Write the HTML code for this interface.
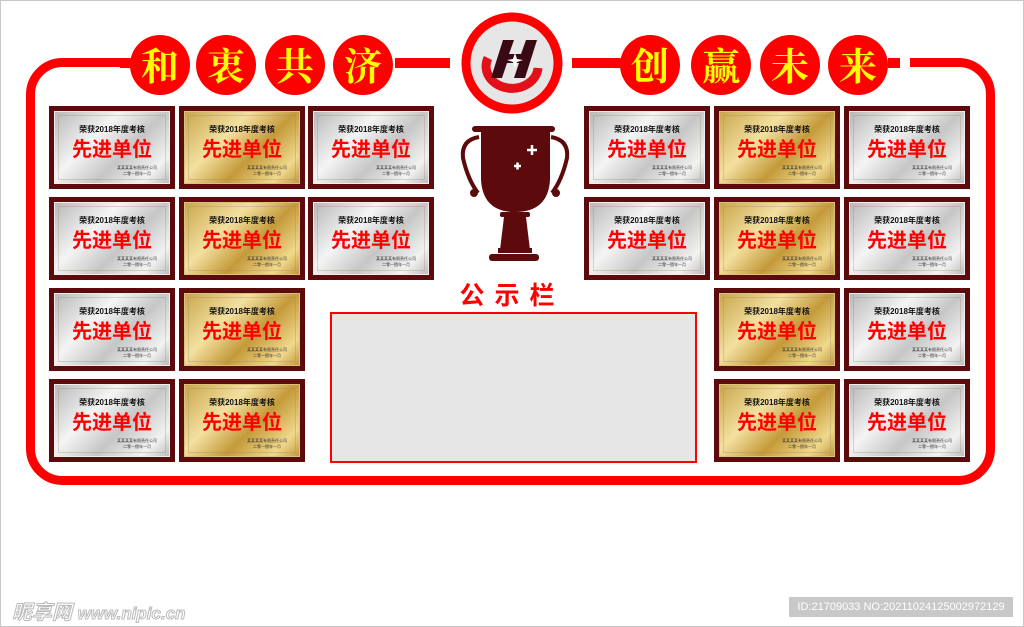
<!DOCTYPE html>
<html><head><meta charset="utf-8">
<style>
*{margin:0;padding:0;box-sizing:border-box}
body{width:1024px;height:627px;background:#fff;position:relative;overflow:hidden;font-family:"Liberation Sans","Noto Sans CJK SC",sans-serif}
.bd{position:absolute;left:0;top:0;width:1024px;height:627px;border:1px solid #c8c8c8}
.p{position:absolute;width:126px;height:83px;background:#5c0a0c;padding:5px}
.in{width:100%;height:100%;position:relative;text-align:center;border:1px solid #eee}
.s .in{background:linear-gradient(135deg,#b8b8b8 0%,#f4f4f4 35%,#c6c6c6 60%,#f2f2f2 85%,#bdbdbd 100%)}
.g .in{background:linear-gradient(135deg,#c9a64c 0%,#f3e0a0 35%,#c49a3a 60%,#f0d88c 85%,#c29a40 100%);border-color:#d9c27a}
.in:before{content:"";position:absolute;left:3px;top:3px;right:3px;bottom:3px;border:1px solid rgba(150,130,100,.3)}
.t1{position:absolute;top:12px;width:100%;font-size:8px;font-weight:bold;color:#111}
.t2{position:absolute;top:26px;width:100%;font-size:20px;font-weight:bold;color:#f00;line-height:24px}
.t3{position:absolute;top:53px;right:12px;font-size:4px;color:#333;line-height:6px;text-align:center}
.c{position:absolute;width:60px;height:60px;border-radius:50%;background:#f00;color:#ff0;font-family:"Noto Serif CJK SC",serif;font-weight:bold;font-size:38px;line-height:58px;text-align:center}
</style></head><body>
<div class="bd"></div>
<svg width="1024" height="627" style="position:absolute;left:0;top:0">
<rect x="30.5" y="62.5" width="960" height="418" rx="32" fill="none" stroke="#f00" stroke-width="9"/>
<rect x="120" y="50" width="790" height="26" fill="#fff"/>
<rect x="395" y="58" width="55" height="10" fill="#f00"/>
<rect x="572" y="58" width="55" height="10" fill="#f00"/>
<rect x="120" y="58" width="12" height="10" fill="#f00"/>
<rect x="888" y="58" width="12" height="10" fill="#f00"/>
<circle cx="512" cy="63" r="46" fill="#e6e6e6" stroke="#f00" stroke-width="9"/>
<path d="M488 58 a26 22 0 1 0 50 10" fill="none" stroke="#e3101a" stroke-width="9"/>
<path d="M503 40 l11 0 -5 14 12 0 5 -14 11 0 -12 38 -11 0 5 -15 -12 0 -5 15 -11 0z" fill="#3a0a14"/>
<path d="M515 53 l2 6 6 1 -6 2 -2 6 -2 -6 -6 -2 6 -1z" fill="#fff"/>
<g fill="#5c0a0c">
<rect x="472" y="126" width="83" height="6" rx="3"/>
<path d="M481 131 L550 131 L550 180 Q548 212 515 212 Q483 212 481 180Z"/>
<path d="M479 137 Q461 140 463 158 Q468 180 478 193" fill="none" stroke="#5c0a0c" stroke-width="4"/>
<path d="M551 137 Q569 140 567 158 Q562 180 552 193" fill="none" stroke="#5c0a0c" stroke-width="4"/>
<circle cx="474" cy="193" r="4"/><circle cx="556" cy="193" r="4"/>
<rect x="500" y="212" width="30" height="5" rx="2"/>
<path d="M504 217 L526 217 L530 250 L500 250Z"/>
<rect x="498" y="248" width="34" height="5"/>
<rect x="489" y="254" width="50" height="7" rx="3"/>
</g>
<path d="M527 150 h10 M532 145 v10 M514 166 h7 M517.5 162.5 v7" stroke="#fff" stroke-width="2.5"/>
<rect x="331" y="313" width="365" height="149" fill="#e6e6e6" stroke="#f00" stroke-width="2"/>
<text x="512" y="304" text-anchor="middle" font-size="25" font-weight="bold" fill="#f00" letter-spacing="10" font-family="Liberation Sans,Noto Sans CJK SC,sans-serif">公示栏</text>
</svg>
<div class="c" style="left:130px;top:35px">和</div>
<div class="c" style="left:196px;top:35px">衷</div>
<div class="c" style="left:265px;top:35px">共</div>
<div class="c" style="left:333px;top:35px">济</div>
<div class="c" style="left:620px;top:35px">创</div>
<div class="c" style="left:691px;top:35px">赢</div>
<div class="c" style="left:760px;top:35px">未</div>
<div class="c" style="left:828px;top:35px">来</div>

<div class="p s" style="left:49px;top:106px"><div class="in"><div class="t1">荣获2018年度考核</div><div class="t2">先进单位</div><div class="t3">某某某某有限责任公司<br>二零一捌年一月</div></div></div>
<div class="p g" style="left:179px;top:106px"><div class="in"><div class="t1">荣获2018年度考核</div><div class="t2">先进单位</div><div class="t3">某某某某有限责任公司<br>二零一捌年一月</div></div></div>
<div class="p s" style="left:308px;top:106px"><div class="in"><div class="t1">荣获2018年度考核</div><div class="t2">先进单位</div><div class="t3">某某某某有限责任公司<br>二零一捌年一月</div></div></div>
<div class="p s" style="left:49px;top:197px"><div class="in"><div class="t1">荣获2018年度考核</div><div class="t2">先进单位</div><div class="t3">某某某某有限责任公司<br>二零一捌年一月</div></div></div>
<div class="p g" style="left:179px;top:197px"><div class="in"><div class="t1">荣获2018年度考核</div><div class="t2">先进单位</div><div class="t3">某某某某有限责任公司<br>二零一捌年一月</div></div></div>
<div class="p s" style="left:308px;top:197px"><div class="in"><div class="t1">荣获2018年度考核</div><div class="t2">先进单位</div><div class="t3">某某某某有限责任公司<br>二零一捌年一月</div></div></div>
<div class="p s" style="left:49px;top:288px"><div class="in"><div class="t1">荣获2018年度考核</div><div class="t2">先进单位</div><div class="t3">某某某某有限责任公司<br>二零一捌年一月</div></div></div>
<div class="p g" style="left:179px;top:288px"><div class="in"><div class="t1">荣获2018年度考核</div><div class="t2">先进单位</div><div class="t3">某某某某有限责任公司<br>二零一捌年一月</div></div></div>
<div class="p s" style="left:49px;top:379px"><div class="in"><div class="t1">荣获2018年度考核</div><div class="t2">先进单位</div><div class="t3">某某某某有限责任公司<br>二零一捌年一月</div></div></div>
<div class="p g" style="left:179px;top:379px"><div class="in"><div class="t1">荣获2018年度考核</div><div class="t2">先进单位</div><div class="t3">某某某某有限责任公司<br>二零一捌年一月</div></div></div>
<div class="p s" style="left:584px;top:106px"><div class="in"><div class="t1">荣获2018年度考核</div><div class="t2">先进单位</div><div class="t3">某某某某有限责任公司<br>二零一捌年一月</div></div></div>
<div class="p g" style="left:714px;top:106px"><div class="in"><div class="t1">荣获2018年度考核</div><div class="t2">先进单位</div><div class="t3">某某某某有限责任公司<br>二零一捌年一月</div></div></div>
<div class="p s" style="left:844px;top:106px"><div class="in"><div class="t1">荣获2018年度考核</div><div class="t2">先进单位</div><div class="t3">某某某某有限责任公司<br>二零一捌年一月</div></div></div>
<div class="p s" style="left:584px;top:197px"><div class="in"><div class="t1">荣获2018年度考核</div><div class="t2">先进单位</div><div class="t3">某某某某有限责任公司<br>二零一捌年一月</div></div></div>
<div class="p g" style="left:714px;top:197px"><div class="in"><div class="t1">荣获2018年度考核</div><div class="t2">先进单位</div><div class="t3">某某某某有限责任公司<br>二零一捌年一月</div></div></div>
<div class="p s" style="left:844px;top:197px"><div class="in"><div class="t1">荣获2018年度考核</div><div class="t2">先进单位</div><div class="t3">某某某某有限责任公司<br>二零一捌年一月</div></div></div>
<div class="p g" style="left:714px;top:288px"><div class="in"><div class="t1">荣获2018年度考核</div><div class="t2">先进单位</div><div class="t3">某某某某有限责任公司<br>二零一捌年一月</div></div></div>
<div class="p s" style="left:844px;top:288px"><div class="in"><div class="t1">荣获2018年度考核</div><div class="t2">先进单位</div><div class="t3">某某某某有限责任公司<br>二零一捌年一月</div></div></div>
<div class="p g" style="left:714px;top:379px"><div class="in"><div class="t1">荣获2018年度考核</div><div class="t2">先进单位</div><div class="t3">某某某某有限责任公司<br>二零一捌年一月</div></div></div>
<div class="p s" style="left:844px;top:379px"><div class="in"><div class="t1">荣获2018年度考核</div><div class="t2">先进单位</div><div class="t3">某某某某有限责任公司<br>二零一捌年一月</div></div></div>

<div style="position:absolute;left:12px;top:596px;font-size:20px;color:#fff;-webkit-text-stroke:1px #bbb;font-style:italic;font-weight:bold">昵享网 <span style="font-size:17px">www.nipic.cn</span></div>
<div style="position:absolute;left:789px;top:597px;width:224px;height:20px;background:#c8c8c8;color:#fff;font-size:11px;line-height:20px;text-align:center">ID:21709033 NO:20211024125002972129</div>
</body></html>
